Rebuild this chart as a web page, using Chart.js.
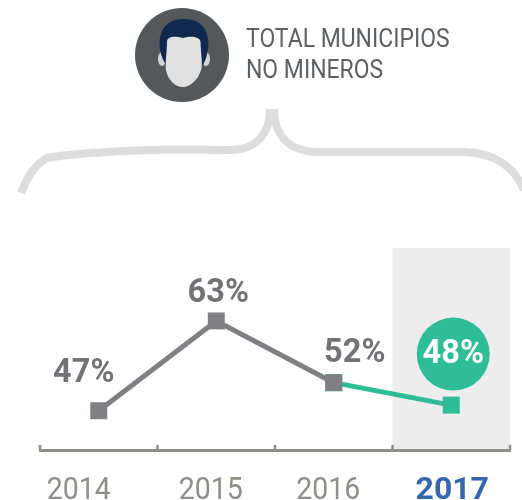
<!DOCTYPE html>
<html><head><meta charset="utf-8">
<script src="https://cdn.jsdelivr.net/npm/chart.js@4"></script>
<style>html,body{margin:0;padding:0;background:#fff;overflow:hidden}#w{position:relative;width:522px;height:500px}canvas{display:block}</style>
</head><body><div id="w"><canvas id="c" width="522" height="500"></canvas></div>
<script>
const categories = ['2014','2015','2016','2017'];
const grayValues = [47,63,52,null];
const greenValues = [null,null,52,48];
const pointLabels = ['47%','63%','52%','48%'];
const headerLines = ['TOTAL MUNICIPIOS','NO MINEROS'];
const GRAY='#808084', GREEN='#2fbd95', AXIS='#8f8f8a', FONT='Roboto, sans-serif';

function squeezed(ctx,text,x,y,sx){
  ctx.save();ctx.translate(x,y);ctx.scale(sx,1);ctx.fillText(text,0,0);ctx.restore();
}

const decor = {
  id:'decor',
  beforeDraw(chart){
    const {ctx,chartArea:a,scales:{x}}=chart;
    ctx.save();
    // highlighted column
    ctx.fillStyle='#ededed';
    const l=x.getPixelForValue(2.5);
    ctx.fillRect(l,a.top,a.right-l,a.bottom-a.top);
    // brace
    ctx.strokeStyle='#dcdedd';ctx.lineWidth=8;ctx.lineJoin='round';
    ctx.beginPath();ctx.moveTo(21,193);
    ctx.bezierCurveTo(27,177,36,164,47,158);
    ctx.bezierCurveTo(80,152,160,149,183,149.5);
    ctx.lineTo(230,150);
    ctx.bezierCurveTo(255,150,270,135,270,109);
    ctx.stroke();
    ctx.beginPath();ctx.moveTo(274,109);
    ctx.bezierCurveTo(274,138,292,152,318,152);
    ctx.lineTo(463,152);
    ctx.bezierCurveTo(495,152,515,168,524,190);
    ctx.stroke();
    // avatar
    ctx.fillStyle='#54585a';ctx.beginPath();ctx.arc(182,55,47,0,Math.PI*2);ctx.fill();
    ctx.fillStyle='#d2d3d3';
    ctx.beginPath();ctx.ellipse(162,59,4,7,0,0,Math.PI*2);ctx.fill();
    ctx.beginPath();ctx.ellipse(206,59,4,7,0,0,Math.PI*2);ctx.fill();
    ctx.fillStyle='#10294f';ctx.beginPath();ctx.moveTo(166,65);
    ctx.bezierCurveTo(155,48,156,19,184,19);
    ctx.bezierCurveTo(212,19,212,48,203,65);
    ctx.closePath();ctx.fill();
    ctx.fillStyle='#e1e1e1';ctx.beginPath();ctx.moveTo(167,42);
    ctx.bezierCurveTo(167,36,175,36,183,38);
    ctx.bezierCurveTo(190,36,200,36,200.5,42);
    ctx.bezierCurveTo(201,55,203,65,201,70);
    ctx.bezierCurveTo(198,80,190,87,183,87);
    ctx.bezierCurveTo(175,87,168,80,166,70);
    ctx.bezierCurveTo(165,62,167,52,167,42);ctx.closePath();ctx.fill();
    // header text
    ctx.fillStyle='#5d6164';ctx.font='25.5px '+FONT;ctx.textAlign='left';ctx.textBaseline='alphabetic';
    squeezed(ctx,headerLines[0],246,47,0.9);
    squeezed(ctx,headerLines[1],246,78,0.9);
    ctx.restore();
  },
  afterDatasetsDraw(chart){
    const {ctx,chartArea:a,scales:{x}}=chart;
    ctx.save();
    // axis ticks (rising from the axis at category boundaries)
    ctx.strokeStyle=AXIS;ctx.lineWidth=2.5;
    categories.concat('').forEach((_,i)=>{
      const p=x.getPixelForValue(i-0.5);
      ctx.beginPath();ctx.moveTo(p,a.bottom);ctx.lineTo(p,a.bottom-5);ctx.stroke();
    });
    // year labels
    const shift=[-20,-5.5,-5.5,1];
    ctx.textAlign='center';ctx.textBaseline='alphabetic';
    categories.forEach((t,i)=>{
      const last=i===categories.length-1;
      ctx.font=(last?'bold ':'')+'31px '+FONT;
      ctx.fillStyle=last?'#3565ad':AXIS;
      squeezed(ctx,t,x.getPixelForValue(i)+shift[i],499,last?1.03:0.92);
    });
    // value labels
    const gm=chart.getDatasetMeta(0).data, tm=chart.getDatasetMeta(1).data;
    const off=[[-15,-37],[2,-27],[21,-29]];
    ctx.textBaseline='middle';ctx.font='bold 32.5px '+FONT;ctx.fillStyle='#737377';
    off.forEach((o,i)=>ctx.fillText(pointLabels[i],gm[i].x+o[0],gm[i].y+o[1]));
    const p=tm[3];
    ctx.fillStyle=GREEN;ctx.beginPath();ctx.arc(p.x+2,p.y-51,36.5,0,Math.PI*2);ctx.fill();
    ctx.fillStyle='#fff';ctx.fillText(pointLabels[3],p.x+2,p.y-50);
    ctx.restore();
  }
};

new Chart(document.getElementById('c'),{
  type:'line',
  data:{labels:categories,datasets:[
    {data:grayValues,borderColor:GRAY,backgroundColor:GRAY,borderWidth:5,pointStyle:'rect',pointRadius:12,pointHoverRadius:12,pointBorderWidth:0,tension:0,spanGaps:false},
    {data:greenValues,borderColor:GREEN,backgroundColor:GREEN,borderWidth:5,pointStyle:'rect',pointRadius:12,pointHoverRadius:12,pointBorderWidth:0,tension:0,spanGaps:false}
  ]},
  options:{
    responsive:false,animation:false,
    layout:{padding:{left:40,right:10,top:248,bottom:42}},
    plugins:{legend:{display:false},tooltip:{enabled:false}},
    scales:{
      y:{display:false,min:40,max:76},
      x:{offset:true,
        grid:{display:false},
        border:{display:true,color:AXIS,width:3},
        ticks:{display:false}
      }
    }
  },
  plugins:[decor]
});
</script></body></html>
